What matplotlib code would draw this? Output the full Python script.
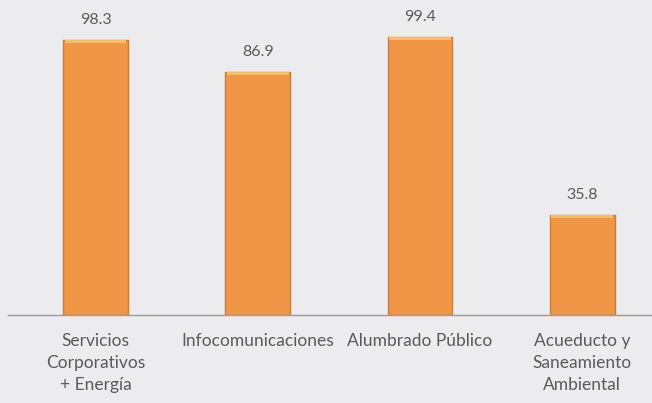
import matplotlib
matplotlib.use('Agg')
import matplotlib.pyplot as plt

# Chart data
categories = ['Servicios\nCorporativos\n+ Energía', 'Infocomunicaciones',
              'Alumbrado Público', 'Acueducto y\nSaneamiento\nAmbiental']
values = [98.3, 86.9, 99.4, 35.8]

bg = '#ececef'
text_color = '#5a5a5a'
plt.rcParams['font.family'] = ['Lato', 'DejaVu Sans']

fig = plt.figure(figsize=(6.52, 4.03), dpi=100, facecolor=bg)
ax = fig.add_axes([8 / 652, 88 / 403, 644 / 652, 315 / 403])
ax.set_facecolor(bg)

x = list(range(len(values)))
ax.bar(x, values, width=0.4, color='#ef9747', edgecolor='#cf7c36', linewidth=1.0, zorder=2)
# light bevel on top of each bar
ax.bar(x, [1.2] * len(values), bottom=[v - 1.2 for v in values], width=0.38,
       color='#f6bd6e', linewidth=0, zorder=3)

for xi, v in zip(x, values):
    ax.text(xi, v + 4.5, f'{v:.1f}', ha='center', va='bottom', fontsize=11.5, color=text_color)

ax.set_xlim(-0.54, 3.43)
ax.set_ylim(0, 112.5)
ax.set_xticks(x)
ax.set_xticklabels(categories, fontsize=12.5, color=text_color, linespacing=1.45)
ax.tick_params(axis='x', length=0, pad=13)
ax.set_yticks([])
for side in ['top', 'right', 'left']:
    ax.spines[side].set_visible(False)
ax.spines['bottom'].set_color('#9a9aa6')
ax.spines['bottom'].set_linewidth(1.0)

fig.savefig('out.png', dpi=100, facecolor=bg)
